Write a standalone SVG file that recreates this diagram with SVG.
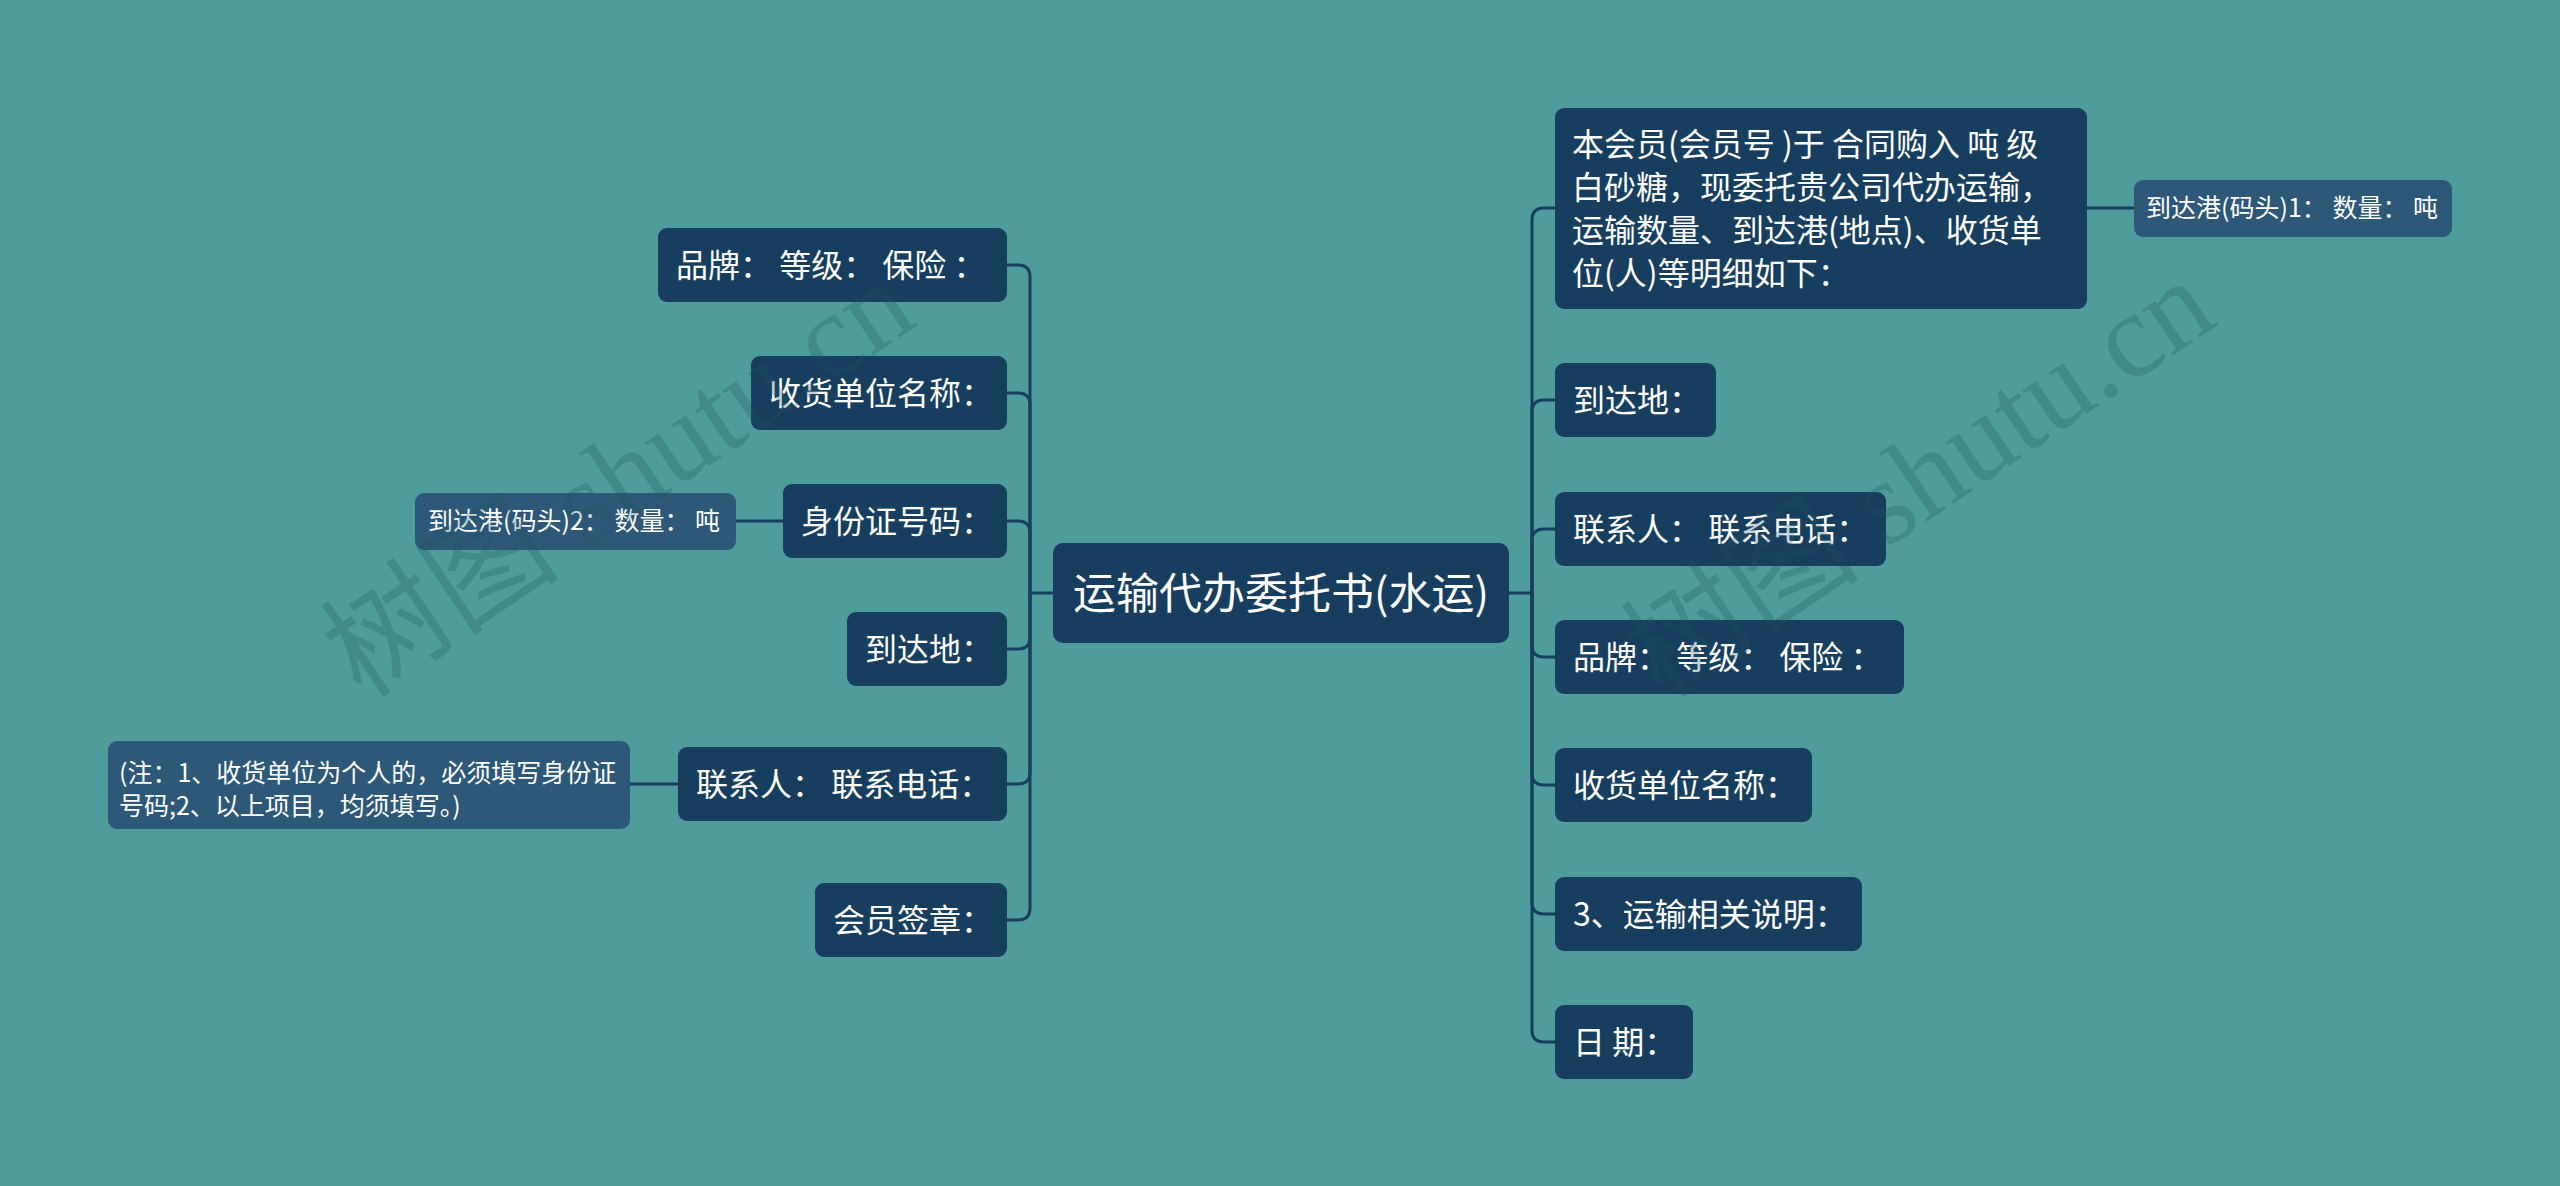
<svg xmlns="http://www.w3.org/2000/svg" width="2560" height="1186" viewBox="0 0 2560 1186">
<style>
.bg{fill:#4e9c9c}
.n rect{fill:#173e5e}
.c rect{fill:#2d5878}
text{font-family:"Noto Sans CJK SC","Liberation Sans",sans-serif;fill:#ffffff}
.t{font-size:32px}
.s{font-size:25px}
.m{font-size:43px}
#links path{fill:none;stroke:#173e5e;stroke-width:3}
.wm{font-family:"Liberation Serif","Noto Sans CJK SC",serif;font-size:120px;fill:#1f5560;opacity:0.25}
</style>
<rect class="bg" x="0" y="0" width="2560" height="1186"/>
<g id="links">
<path d="M1509,593 H1532"/>
<path d="M1053,593 H1030"/>
<path d="M1532,593 V220 Q1532,208 1544,208 H1555"/>
<path d="M1532,593 V412 Q1532,400 1544,400 H1555"/>
<path d="M1532,593 V541 Q1532,529 1544,529 H1555"/>
<path d="M1532,593 V645 Q1532,657 1544,657 H1555"/>
<path d="M1532,593 V773 Q1532,785 1544,785 H1555"/>
<path d="M1532,593 V902 Q1532,914 1544,914 H1555"/>
<path d="M1532,593 V1030 Q1532,1042 1544,1042 H1555"/>
<path d="M1030,593 V277 Q1030,265 1018,265 H1007"/>
<path d="M1030,593 V405 Q1030,393 1018,393 H1007"/>
<path d="M1030,593 V533 Q1030,521 1018,521 H1007"/>
<path d="M1030,593 V637 Q1030,649 1018,649 H1007"/>
<path d="M1030,593 V772 Q1030,784 1018,784 H1007"/>
<path d="M1030,593 V908 Q1030,920 1018,920 H1007"/>
<path d="M2087,208 H2134"/>
<path d="M736,521 H783"/>
<path d="M630,784 H678"/>
</g>
<g id="root" class="n"><rect x="1053" y="543" width="456" height="100" rx="10"/><text class="m" x="1281" y="609" text-anchor="middle">运输代办委托书(水运)</text></g>
<g id="l1" class="n"><rect x="658" y="228" width="349" height="74" rx="9"/><text class="t" x="676" y="277">品牌： 等级： 保险 ：</text></g>
<g id="l2" class="n"><rect x="751" y="356" width="256" height="74" rx="9"/><text class="t" x="769" y="405">收货单位名称：</text></g>
<g id="l3" class="n"><rect x="783" y="484" width="224" height="74" rx="9"/><text class="t" x="801" y="533">身份证号码：</text></g>
<g id="l4" class="n"><rect x="847" y="612" width="160" height="74" rx="9"/><text class="t" x="865" y="661">到达地：</text></g>
<g id="l5" class="n"><rect x="678" y="747" width="329" height="74" rx="9"/><text class="t" x="696" y="796">联系人： 联系电话：</text></g>
<g id="l6" class="n"><rect x="815" y="883" width="192" height="74" rx="9"/><text class="t" x="833" y="932">会员签章：</text></g>
<g id="l3c" class="c"><rect x="415" y="493" width="321" height="57" rx="9"/><text class="s" x="428" y="530">到达港(码头)2： 数量： 吨</text></g>
<g id="l5c" class="c"><rect x="108" y="741" width="522" height="88" rx="9"/><text class="s" x="119" y="782">(注：1、收货单位为个人的，必须填写身份证</text><text class="s" x="119" y="815">号码;2、以上项目，均须填写。)</text></g>
<g id="r1" class="n"><rect x="1555" y="108" width="532" height="201" rx="9"/><text class="t" x="1572" y="156">本会员(会员号 )于 合同购入 吨 级</text><text class="t" x="1572" y="199">白砂糖，现委托贵公司代办运输，</text><text class="t" x="1572" y="242">运输数量、到达港(地点)、收货单</text><text class="t" x="1572" y="285">位(人)等明细如下：</text></g>
<g id="r1c" class="c"><rect x="2134" y="180" width="318" height="57" rx="9"/><text class="s" x="2146" y="217">到达港(码头)1： 数量： 吨</text></g>
<g id="r2" class="n"><rect x="1555" y="363" width="161" height="74" rx="9"/><text class="t" x="1573" y="412">到达地：</text></g>
<g id="r3" class="n"><rect x="1555" y="492" width="331" height="74" rx="9"/><text class="t" x="1573" y="541">联系人： 联系电话：</text></g>
<g id="r4" class="n"><rect x="1555" y="620" width="349" height="74" rx="9"/><text class="t" x="1573" y="669">品牌： 等级： 保险 ：</text></g>
<g id="r5" class="n"><rect x="1555" y="748" width="257" height="74" rx="9"/><text class="t" x="1573" y="797">收货单位名称：</text></g>
<g id="r6" class="n"><rect x="1555" y="877" width="307" height="74" rx="9"/><text class="t" x="1573" y="926">3、运输相关说明：</text></g>
<g id="r7" class="n"><rect x="1555" y="1005" width="138" height="74" rx="9"/><text class="t" x="1573" y="1054">日 期：</text></g>
<g id="watermarks">
<text class="wm" transform="translate(362,700) rotate(-34)">树图 shutu.cn</text>
<text class="wm" transform="translate(1662,700) rotate(-34)">树图 shutu.cn</text>
</g>
</svg>
